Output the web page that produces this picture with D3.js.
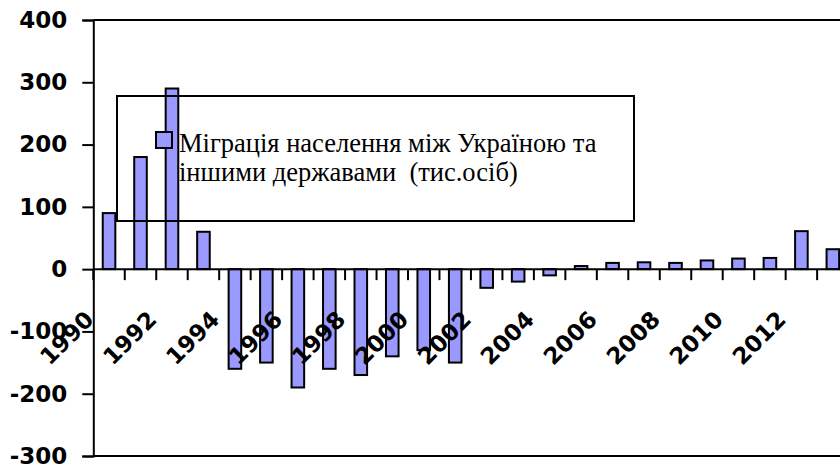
<!DOCTYPE html>
<html>
<head>
<meta charset="utf-8">
<script src="https://cdn.jsdelivr.net/npm/d3@7"></script>
<style>
  html, body { margin: 0; padding: 0; background: #fff; }
  svg { display: block; }
  .lab { font-family: "DejaVu Sans", sans-serif; font-weight: bold; font-size: 23px; fill: #000; }
  .leg { font-family: "Liberation Serif", "Times New Roman", serif; font-size: 26.5px; fill: #000; }
</style>
</head>
<body>
<svg id="chart" width="840" height="470"></svg>
<script>
const years = [1990,1991,1992,1993,1994,1995,1996,1997,1998,1999,2000,2001,2002,2003,2004,2005,2006,2007,2008,2009,2010,2011,2012,2013];
const values = [90,180,290,60,-160,-150,-190,-160,-170,-140,-130,-150,-30,-20,-10,5,10,11,10,14,17,18,61,32];
const yTicks = [-300,-200,-100,0,100,200,300,400];
const xLabelYears = [1990,1992,1994,1996,1998,2000,2002,2004,2006,2008,2010,2012];
const legendLines = ["Міграція населення між Україною та", "іншими державами  (тис.осіб)"];

(function () {
const svg = d3.select("#chart");
const pLeft = 93.3, pRight = 848.6, pTop = 20, pBottom = 456;

const x = d3.scaleBand().domain(years).range([pLeft, pRight]).paddingInner(0.6).paddingOuter(0.3);
const y = d3.scaleLinear().domain([-300, 400]).range([pBottom, pTop]);
const step = x.step();

// bars
svg.append("g").selectAll("rect").data(years).join("rect")
  .attr("x", d => x(d))
  .attr("width", x.bandwidth())
  .attr("y", (d, i) => y(Math.max(0, values[i])))
  .attr("height", (d, i) => Math.abs(y(values[i]) - y(0)))
  .attr("fill", "#9999FF")
  .attr("stroke", "#000")
  .attr("stroke-width", 2);

// plot border top / bottom
svg.append("line").attr("x1", pLeft).attr("x2", 840).attr("y1", y(400)).attr("y2", y(400)).attr("stroke", "#000").attr("stroke-width", 2);
svg.append("line").attr("x1", pLeft).attr("x2", 840).attr("y1", y(-300)).attr("y2", y(-300)).attr("stroke", "#000").attr("stroke-width", 2);

// y axis
const yAxis = d3.axisLeft(y).tickValues(yTicks).tickSize(11).tickPadding(15).tickFormat(d => String(d));
const gy = svg.append("g").attr("transform", `translate(${pLeft},0)`).call(yAxis);
gy.attr("font-size", null).attr("font-family", null);
gy.select(".domain").attr("stroke", "#000").attr("stroke-width", 2);
gy.selectAll(".tick line").attr("stroke", "#000").attr("stroke-width", 2);
gy.selectAll(".tick text").attr("class", "lab");

// x axis (zero line + category boundary ticks)
svg.append("line").attr("x1", pLeft).attr("x2", 840).attr("y1", y(0)).attr("y2", y(0)).attr("stroke", "#000").attr("stroke-width", 2);
svg.append("g").selectAll("line").data(years).join("line")
  .attr("x1", d => x(d) - step * 0.3).attr("x2", d => x(d) - step * 0.3)
  .attr("y1", y(0)).attr("y2", y(0) + 11)
  .attr("stroke", "#000").attr("stroke-width", 2);

// x labels
svg.append("g").selectAll("text").data(xLabelYears).join("text")
  .attr("class", "lab")
  .attr("text-anchor", "end")
  .attr("transform", d => `translate(${x(d) + x.bandwidth() / 2 - 14},321) rotate(-45)`)
  .text(d => d);

// legend
const lg = svg.append("g");
lg.append("rect").attr("x", 117).attr("y", 96).attr("width", 517).attr("height", 125)
  .attr("fill", "none").attr("stroke", "#000").attr("stroke-width", 2);
lg.append("rect").attr("x", 156).attr("y", 132).attr("width", 16).attr("height", 16)
  .attr("fill", "#9999FF").attr("stroke", "#000").attr("stroke-width", 2);
lg.selectAll("text").data(legendLines).join("text")
  .attr("class", "leg")
  .attr("x", 179)
  .attr("y", (d, i) => 151.5 + i * 29)
  .style("white-space", "pre")
  .text(d => d);
})();
</script>
</body>
</html>
